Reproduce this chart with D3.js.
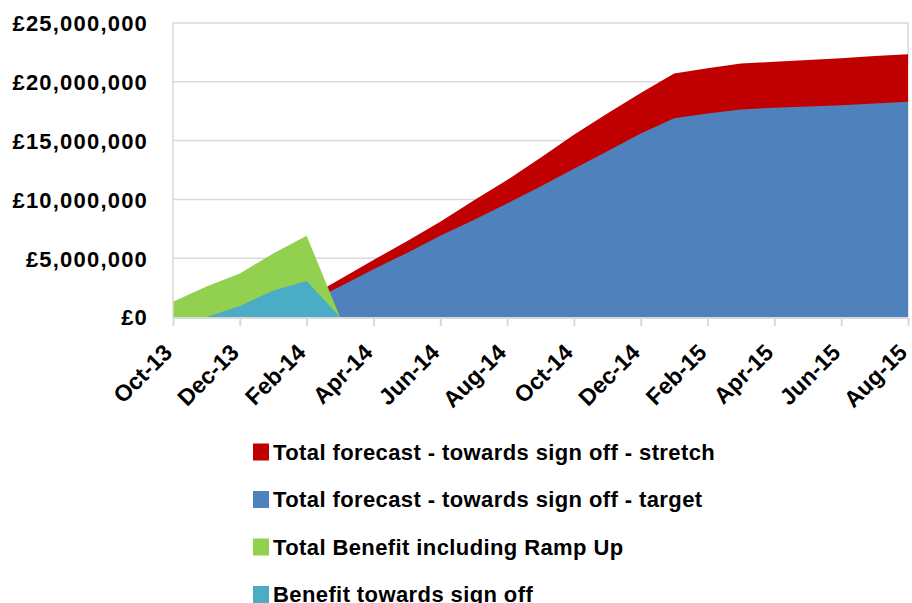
<!DOCTYPE html>
<html><head><meta charset="utf-8">
<script src="https://cdn.jsdelivr.net/npm/d3@7"></script>
<style>body{margin:0;background:#fff}svg{display:block}</style>
</head><body>
<svg id="c" width="912" height="603"></svg>
<script>
const months = ["Oct-13","Nov-13","Dec-13","Jan-14","Feb-14","Mar-14","Apr-14","May-14","Jun-14","Jul-14","Aug-14","Sep-14","Oct-14","Nov-14","Dec-14","Jan-15","Feb-15","Mar-15","Apr-15","May-15","Jun-15","Jul-15","Aug-15"];
const tickLabels = ["Oct-13","Dec-13","Feb-14","Apr-14","Jun-14","Aug-14","Oct-14","Dec-14","Feb-15","Apr-15","Jun-15","Aug-15"];
const yTicks = [0,5000000,10000000,15000000,20000000,25000000];
const seriesNames = ["Total forecast - towards sign off - stretch","Total forecast - towards sign off - target","Total Benefit including Ramp Up","Benefit towards sign off"];
const seriesColors = ["#C00000","#4F81BD","#92D050","#4BACC6"];
const stretch = [null,null,null,null,1.6,3.2,4.85,6.45,8.1,9.9,11.65,13.55,15.5,17.3,19.05,20.7,21.15,21.55,21.7,21.85,22.0,22.2,22.35];
const target  = [null,null,null,null,1.2,2.6,4.05,5.45,6.9,8.25,9.65,11.1,12.6,14.1,15.6,16.9,17.3,17.65,17.8,17.9,18.0,18.15,18.3];
const rampUp  = [1.3,2.6,3.7,5.4,6.9,0,null,null,null,null,null,null,null,null,null,null,null,null,null,null,null,null,null];
const signOff = [0,0,0.93,2.25,3.06,0,null,null,null,null,null,null,null,null,null,null,null,null,null,null,null,null,null];
const series = [stretch, target, rampUp, signOff];

const svg = d3.select("#c");
const x = d3.scaleLinear().domain([0, months.length-1]).range([173, 908]);
const y = d3.scaleLinear().domain([0, 25000000]).range([317, 23]);
const font = "'Liberation Sans', Arial, sans-serif";

// gridlines
svg.append("g").selectAll("line").data(yTicks).join("line")
  .attr("x1", 173).attr("x2", 908)
  .attr("y1", d=>y(d)).attr("y2", d=>y(d))
  .attr("stroke", "#d9d9d9").attr("stroke-width", 1.5);
svg.append("line").attr("x1",908).attr("x2",908).attr("y1",y(25000000)).attr("y2",y(0)).attr("stroke","#d9d9d9").attr("stroke-width",1.5);

// areas
const area = d3.area().defined(d=>d!==null).x((d,i)=>x(i)).y0(y(0)).y1(d=>y(d*1e6));
svg.append("g").selectAll("path").data(series).join("path")
  .attr("d", d=>area(d)).attr("fill", (d,i)=>seriesColors[i]);

svg.append("line").attr("x1",173).attr("x2",173).attr("y1",y(25000000)).attr("y2",y(0)).attr("stroke","#d9d9d9").attr("stroke-width",1.5);

// y axis labels
const yAxis = d3.axisLeft(y).tickValues(yTicks).tickSize(0).tickPadding(25)
  .tickFormat(d=>"£"+d3.format(",")(d));
const ga = svg.append("g").attr("transform","translate(173,0)").call(yAxis);
ga.select(".domain").remove();
ga.selectAll("text").attr("font-family",font).attr("letter-spacing","1.2px")
  .attr("font-weight","bold").attr("font-size","22px").attr("fill","#000").attr("dy","0.36em");

// x axis
const tickIdx = tickLabels.map(t=>months.indexOf(t));
const xAxis = d3.axisBottom(x).tickValues(tickIdx).tickSize(8).tickPadding(4)
  .tickFormat(i=>months[i]);
const gx = svg.append("g").attr("transform","translate(0,318)").call(xAxis);
gx.select(".domain").attr("stroke","#d9d9d9").attr("stroke-width",2).attr("d","M173,0H908");
gx.selectAll(".tick line").attr("stroke","#d9d9d9").attr("stroke-width",2);
gx.selectAll("text").attr("font-family",font)
  .attr("font-weight","bold").attr("font-size","23px").attr("fill","#000")
  .attr("text-anchor","end").attr("dy","0")
  .attr("transform","translate(0,36) rotate(-45)").attr("y",0).attr("x",0);

// legend
const lg = svg.append("g").selectAll("g").data(seriesNames).join("g")
  .attr("transform",(d,i)=>`translate(253,${452+i*47.5})`);
lg.append("rect").attr("x",0).attr("y",-8.5).attr("width",16).attr("height",17)
  .attr("fill",(d,i)=>seriesColors[i]);
lg.append("text").attr("x",20).attr("y",0).attr("dy","0.36em")
  .attr("font-family",font).attr("font-weight","bold").attr("letter-spacing","0.4px")
  .attr("font-size","22px").attr("fill","#000").text(d=>d);
</script>
</body></html>
